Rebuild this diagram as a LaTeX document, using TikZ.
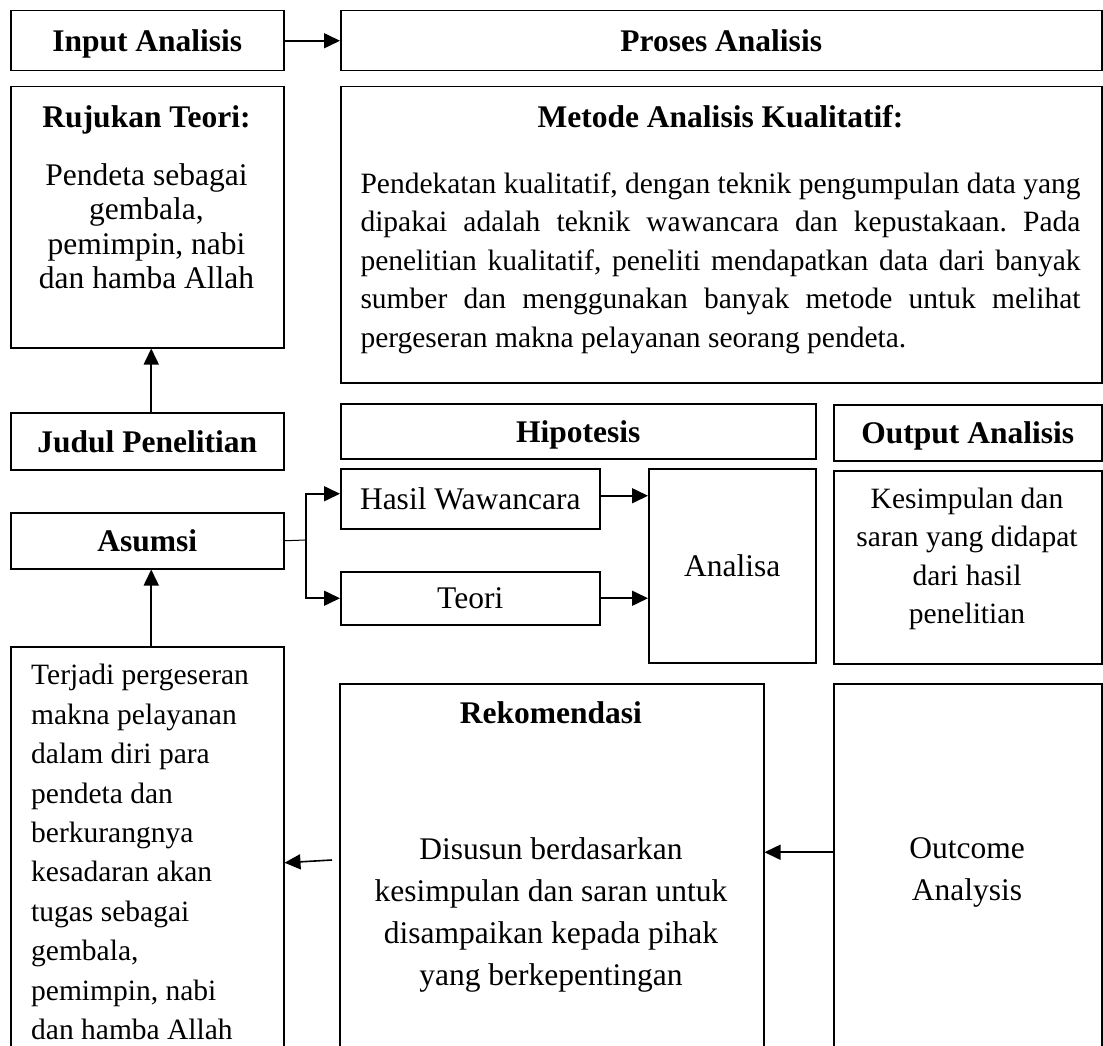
\documentclass[tikz,border=0pt]{standalone}
\usepackage{fontspec}
\setmainfont{Liberation Serif}
\usetikzlibrary{arrows.meta,calc}
\tikzset{
  box/.style={draw, line width=1.5pt, rectangle, inner sep=0pt, anchor=north west, text depth=0pt},
  arr/.style={line width=1.6pt, -{Triangle[length=16pt,width=15pt]}},
  ttl/.style={font=\fontsize{31.5}{36}\selectfont\bfseries},
  big/.style={font=\fontsize{31.5}{36}\selectfont},
  sml/.style={font=\fontsize{29.5}{38.5}\selectfont},
  txt/.style={inner sep=0pt},
}
\begin{document}
\begin{tikzpicture}[x=1pt,y=-1pt]
\useasboundingbox (0,0) rectangle (1103,1046);
\clip (0,0) rectangle (1103,1046);

% top row
\node[box, ttl, minimum width=273pt, minimum height=60pt] (inp) at (10,10) {Input Analisis};
\node[box, ttl, minimum width=761pt, minimum height=60pt] (pro) at (340,10) {Proses Analisis};

% Rujukan
\node[box, minimum width=273pt, minimum height=261pt] (ruj) at (10,86) {};
\node[txt, ttl] (rujt) at (146.5,120) {Rujukan Teori:};
\node[txt, align=center, font=\fontsize{31.5}{34.5}\selectfont] (rujb) at (146.5,226) {Pendeta sebagai\\gembala,\\pemimpin, nabi\\dan hamba Allah};

% Metode
\node[box, minimum width=761pt, minimum height=296pt] (met) at (340,86) {};
\node[txt, ttl] (mett) at (720.5,117) {Metode Analisis Kualitatif:};
\node[txt, sml, text width=720pt, align=justify] (metb) at (720.5,263) {\frenchspacing\hyphenpenalty=10000\exhyphenpenalty=10000 Pendekatan kualitatif, dengan teknik pengumpulan data yang\linebreak dipakai adalah teknik wawancara dan kepustakaan. Pada\linebreak penelitian kualitatif, peneliti mendapatkan data dari banyak\linebreak sumber dan menggunakan banyak metode untuk melihat\linebreak pergeseran makna pelayanan seorang pendeta.};

% Judul, Asumsi
\node[box, ttl, minimum width=273pt, minimum height=57pt] (jud) at (10,412) {Judul Penelitian};
\node[box, ttl, minimum width=273pt, minimum height=56pt] (asu) at (10,512) {Asumsi};

% Terjadi
\node[box, minimum width=273pt, minimum height=414pt] (ter) at (10,646) {};
\node[txt, align=left, anchor=west, font=\fontsize{29.5}{39.4}\selectfont] (tert) at (31,852) {Terjadi pergeseran\\makna pelayanan\\dalam diri para\\pendeta dan\\berkurangnya\\kesadaran akan\\tugas sebagai\\gembala,\\pemimpin, nabi\\dan hamba Allah};

% Hipotesis / Output
\node[box, ttl, minimum width=475pt, minimum height=55pt] (hip) at (340,403) {Hipotesis};
\node[box, ttl, minimum width=268pt, minimum height=56pt] (out) at (833,404) {Output Analisis};

\node[box, big, minimum width=259pt, minimum height=60pt] (has) at (340,468) {Hasil Wawancara};
\node[box, big, minimum width=259pt, minimum height=53pt] (teo) at (340,571) {Teori};
\node[box, big, minimum width=167pt, minimum height=194pt] (ana) at (648,468) {Analisa};

\node[box, minimum width=268pt, minimum height=193pt] (kes) at (833,470) {};
\node[txt, align=center, font=\fontsize{29.5}{38.3}\selectfont] (kest) at (967,559) {Kesimpulan dan\\saran yang didapat\\dari hasil\\penelitian};

% Rekomendasi / Outcome
\node[box, minimum width=424pt, minimum height=377pt] (rek) at (339,683) {};
\node[txt, ttl] (rekt) at (551,713) {Rekomendasi};
\node[txt, align=center, font=\fontsize{31.5}{41.7}\selectfont] (rekb) at (551,915) {Disusun berdasarkan\\kesimpulan dan saran untuk\\disampaikan kepada pihak\\yang berkepentingan};

\node[box, minimum width=268pt, minimum height=377pt] (outc) at (833,683) {};
\node[txt, align=center, font=\fontsize{31.5}{42}\selectfont] (outct) at (967,872) {Outcome\\Analysis};

% connectors
\draw[arr] (inp) -- (pro);
\draw[arr] ([xshift=4pt]jud.north) -- ([xshift=4pt]ruj.south);
\draw[arr] ([xshift=4pt]ter.north) -- ([xshift=4pt]asu.south);
\coordinate (br) at (306,540);
\draw[line width=1pt] (asu.east) -- (br);
\draw[arr] (br) |- ([yshift=5pt]has.west);
\draw[arr] (br) |- (teo.west);
\draw[arr] ([yshift=3pt]has.east) -- ([yshift=3pt]has.east -| ana.west);
\draw[arr] (teo.east) -- (teo.east -| ana.west);
\draw[arr] ([yshift=20pt]outc.west) -- ([yshift=20pt]outc.west -| rek.east);
\coordinate (rk) at (332,860);
\draw[arr] (rk) -- ([yshift=-9pt]ter.east);
\end{tikzpicture}
\end{document}
